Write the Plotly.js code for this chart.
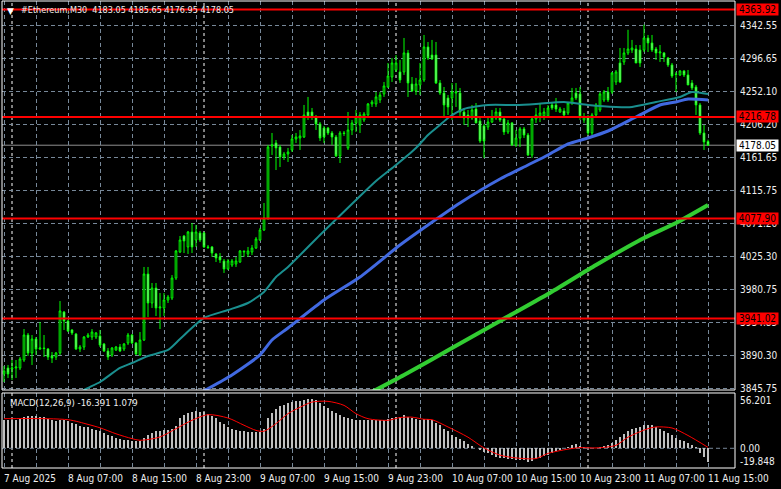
<!DOCTYPE html>
<html><head><meta charset="utf-8">
<script src="https://cdn.plot.ly/plotly-3.0.1.min.js"></script>
<style>html,body{margin:0;padding:0;background:#000;overflow:hidden}</style>
</head><body><div id="chart" style="width:781px;height:489px"></div>
<script>
// ---- data ----
const chartTitle = '#Ethereum,M30  4183.05 4185.65 4176.95 4178.05';
const macdTitle = 'MACD(12,26,9) -16.391 1.079';
// bar 0 = 7 Aug 2025 23:00, M30 bars
const opens = [
3865.0,3873.2,3871.8,3873.2,3873.2,3884.1,3918.3,3893.7,3912.8,3899.2,
3900.5,3899.2,3889.6,3888.2,3893.7,3949.8,3937.5,3925.2,3919.7,3899.2,
3901.9,3915.6,3915.6,3915.6,3916.9,3906.0,3896.4,3891.0,3897.8,3901.9,
3899.2,3907.4,3918.3,3907.4,3891.0,3911.5,4001.8,3962.1,3982.6,3955.3,
3955.3,3966.2,3968.9,3996.3,4031.9,4053.8,4038.8,4059.3,4048.3,4057.9,
4057.9,4038.8,4038.8,4029.2,4025.1,4019.6,4008.7,4014.1,4015.5,4018.2,
4031.9,4029.2,4031.9,4037.4,4048.3,4062.0,4078.4,4177.0,4181.1,4175.6,
4161.9,4166.0,4171.5,4186.6,4187.9,4189.3,4223.5,4223.5,4216.7,4207.1,
4201.6,4201.6,4194.8,4189.3,4163.3,4194.8,4174.3,4198.9,4208.5,4205.7,
4212.6,4219.4,4234.5,4234.5,4240.0,4248.2,4257.7,4271.4,4281.0,4278.3,
4278.3,4304.3,4261.8,4252.3,4260.5,4267.3,4312.5,4301.5,4301.5,4263.2,
4249.5,4242.7,4242.7,4249.5,4249.5,4223.5,4219.4,4215.3,4227.6,4211.2,
4204.4,4203.0,4209.8,4215.3,4223.5,4214.0,4196.2,4208.5,4178.4,4187.9,
4200.3,4192.0,4164.7,4214.0,4218.1,4218.1,4218.1,4233.1,4233.1,4223.5,
4224.9,4222.2,4235.8,4249.5,4248.2,4212.6,4216.7,4194.8,4219.4,4226.3,
4240.0,4250.9,4250.9,4264.6,4290.6,4292.0,4304.3,4308.4,4309.7,4308.4,
4308.4,4324.8,4318.0,4309.7,4304.3,4304.3,4297.4,4287.9,4275.5,4274.2,
4279.6,4274.2,4263.2,4257.7,4233.1,4194.8,4183.05];
const highs = [
3875.9,3877.3,3884.1,3884.1,3888.2,3926.5,3921.1,3918.3,3915.6,3936.1,
3918.3,3900.5,3895.1,3895.1,3964.8,3951.2,3938.8,3926.5,3921.1,3904.6,
3916.9,3921.1,3926.5,3922.4,3925.2,3907.4,3900.5,3901.9,3903.3,3906.0,
3907.4,3921.1,3919.7,3908.7,3922.4,4011.4,4011.4,3989.5,3989.5,3975.8,
3975.8,3973.1,4000.4,4034.6,4053.8,4055.2,4060.7,4071.6,4068.9,4060.7,
4059.3,4041.5,4040.1,4030.5,4030.5,4022.3,4022.3,4022.3,4025.1,4034.6,
4034.6,4038.8,4041.5,4052.4,4064.8,4099.0,4178.4,4194.8,4185.2,4178.4,
4168.8,4174.3,4192.0,4194.8,4198.9,4233.1,4244.1,4229.0,4219.4,4209.8,
4204.4,4203.0,4197.5,4192.0,4197.5,4197.5,4223.5,4212.6,4226.3,4223.5,
4223.5,4235.8,4240.0,4250.9,4250.9,4264.6,4290.6,4297.4,4301.5,4294.7,
4324.8,4308.4,4271.4,4270.1,4290.6,4328.9,4319.3,4322.1,4319.3,4267.3,
4257.7,4246.8,4263.2,4263.2,4256.4,4229.0,4226.3,4233.1,4235.8,4215.3,
4207.1,4215.3,4226.3,4229.0,4229.0,4216.7,4212.6,4209.8,4198.9,4203.0,
4203.0,4194.8,4216.7,4229.0,4235.8,4229.0,4233.1,4237.2,4242.7,4230.4,
4229.0,4237.2,4256.4,4256.4,4257.7,4222.2,4219.4,4222.2,4235.8,4250.9,
4253.6,4257.7,4278.3,4281.0,4311.1,4311.1,4336.0,4322.1,4315.2,4315.2,
4343.0,4328.9,4328.9,4312.5,4315.2,4305.6,4298.8,4290.6,4278.3,4281.0,
4281.0,4281.0,4267.3,4260.5,4235.8,4205.7,4185.65];
const lows = [
3854.0,3859.5,3856.7,3859.5,3870.4,3881.4,3889.6,3877.3,3891.0,3897.8,
3888.2,3884.1,3880.0,3884.1,3891.0,3925.2,3922.4,3918.3,3897.8,3895.1,
3897.8,3914.2,3911.5,3912.8,3901.9,3895.1,3884.1,3888.2,3896.4,3895.1,
3896.4,3904.6,3906.0,3891.0,3889.6,3910.1,3942.9,3955.3,3944.3,3926.5,
3944.3,3962.1,3966.2,3993.6,4030.5,4030.5,4029.2,4030.5,4038.8,4045.6,
4037.4,4036.0,4025.1,4018.2,4016.9,4003.2,4007.3,4011.4,4011.4,4016.9,
4025.1,4025.1,4027.8,4036.0,4047.0,4060.7,4075.7,4164.7,4144.1,4148.2,
4157.8,4155.1,4168.8,4181.1,4171.5,4187.9,4212.6,4212.6,4198.9,4183.8,
4181.1,4192.0,4178.4,4161.9,4153.7,4190.7,4171.5,4192.0,4196.2,4194.8,
4209.8,4215.3,4230.4,4230.4,4235.8,4244.1,4256.4,4264.6,4278.3,4263.2,
4274.2,4244.1,4250.9,4246.8,4246.8,4264.6,4294.7,4294.7,4261.8,4246.8,
4216.7,4219.4,4212.6,4230.4,4216.7,4205.7,4203.0,4212.6,4208.5,4181.1,
4160.6,4198.9,4208.5,4212.6,4209.8,4192.0,4193.4,4177.0,4175.6,4175.6,
4187.9,4163.3,4160.6,4208.5,4209.8,4212.6,4215.3,4226.3,4223.5,4222.2,
4216.7,4219.4,4233.1,4240.0,4212.6,4208.5,4192.0,4192.0,4216.7,4223.5,
4237.2,4237.2,4248.2,4260.5,4263.2,4287.9,4301.5,4304.3,4290.6,4285.1,
4305.6,4305.6,4305.6,4294.7,4292.0,4292.0,4285.1,4270.1,4250.9,4272.8,
4271.4,4260.5,4253.6,4219.4,4192.0,4171.5,4176.95];
const closes = [
3869.1,3865.0,3873.2,3874.5,3885.5,3918.3,3893.7,3912.8,3899.2,3900.5,
3899.8,3888.2,3886.8,3893.7,3951.2,3937.5,3923.8,3921.1,3899.2,3901.9,
3915.6,3918.3,3922.4,3921.1,3904.6,3896.4,3888.2,3900.5,3901.9,3896.4,
3906.0,3918.3,3907.4,3892.3,3911.5,4001.8,3962.1,3982.6,3955.3,3956.6,
3966.2,3970.3,3996.3,4033.3,4048.3,4047.0,4059.3,4038.8,4059.3,4048.3,
4038.8,4038.1,4030.5,4023.7,4021.0,4008.7,4019.6,4019.6,4019.6,4033.3,
4032.6,4033.3,4037.4,4049.7,4062.0,4078.4,4175.6,4178.4,4174.3,4161.9,
4166.0,4168.8,4186.6,4189.3,4190.7,4219.4,4216.7,4216.7,4207.1,4187.9,
4189.3,4194.8,4189.3,4163.3,4194.8,4194.1,4198.9,4208.5,4216.7,4219.4,
4220.8,4234.5,4237.2,4244.1,4246.8,4259.1,4272.8,4290.6,4290.6,4267.3,
4304.3,4263.2,4252.3,4261.8,4267.3,4312.5,4297.4,4296.1,4263.2,4249.5,
4233.1,4230.4,4250.9,4250.9,4223.5,4215.3,4215.3,4226.3,4208.5,4183.8,
4183.8,4209.8,4215.3,4223.5,4212.6,4196.2,4208.5,4178.4,4187.9,4200.3,
4192.0,4164.7,4214.0,4219.4,4222.2,4223.5,4229.0,4229.0,4227.6,4227.6,
4219.4,4235.8,4242.7,4242.7,4216.7,4216.7,4194.8,4219.4,4233.1,4248.2,
4250.9,4240.0,4276.9,4278.3,4264.6,4304.3,4309.7,4311.1,4290.6,4290.6,
4324.8,4318.0,4308.4,4304.3,4305.6,4298.8,4287.9,4272.8,4274.8,4279.6,
4274.2,4260.5,4256.4,4233.1,4194.8,4182.5,4178.05];
const macdHist = [
33.0,33.5,33.0,33.5,34.0,36.5,37.4,37.4,37.4,37.0,
36.5,34.5,33.0,32.0,33.5,33.0,31.5,30.0,28.0,26.5,
25.5,24.5,23.0,21.5,20.0,18.0,16.0,14.0,12.5,11.0,
10.0,9.5,9.0,8.5,8.0,12.0,15.5,18.5,20.0,20.5,
21.0,22.0,23.0,26.0,35.0,39.0,41.0,43.0,43.5,43.0,
42.0,40.0,37.5,35.0,31.0,28.0,25.5,23.0,21.5,20.5,
20.0,19.5,19.0,19.0,19.5,23.0,35.0,41.0,46.0,49.0,
51.0,52.5,54.0,55.0,56.0,57.0,58.0,58.2,56.5,53.0,
50.0,47.0,44.0,41.0,38.5,36.7,35.5,34.7,33.5,33.0,
33.0,33.0,33.0,33.0,33.0,33.5,34.5,35.5,36.5,37.0,
38.5,37.0,35.0,34.0,33.5,34.0,34.0,33.0,30.0,27.0,
23.0,20.0,16.0,13.0,11.0,8.5,5.5,3.0,0.8,-1.5,
-4.0,-6.0,-8.0,-10.0,-11.0,-11.5,-12.0,-13.0,-13.5,-14.0,
-14.0,-15.5,-14.5,-13.0,-11.5,-9.5,-7.5,-5.5,-3.5,-1.5,
0.5,2.0,3.5,4.5,2.5,1.5,0.5,0.5,0.5,1.5,
2.5,4.0,6.5,9.5,13.0,17.0,20.0,22.5,24.0,25.5,
27.0,27.5,27.5,25.5,23.0,20.5,18.0,15.0,12.5,10.0,
8.0,6.0,4.0,1.0,-5.0,-10.0,-16.391];
const signalBars = [0,16,21,24,28,32,34,39,43,47,51,56,60,63,65,68,71,75,77,81,85,88,91,96,99,102,105,107,111,116,120,124,128,133,136,141,144,148,153,156,161,163,167,171,176];
const signalVals = [34.7,33.5,28,24,17,11.3,9.4,13.3,23,32.8,39.4,35.5,27,21,20,28.9,40.6,50.3,54.2,55,50.3,40.6,34.7,32.8,36,36.5,34,33.5,25,13,0.4,-8,-11.3,-12,-6,-1,0.8,0.4,3.5,13,23,25,23.8,15,1.079];
const maTealBars = [18,20,24,29,32,36,41,44,50,56,61,65,68,71,79,88,93,98,103,106,109,111,115,121,128,133,140,146,153,157,163,169,172,176];
const maTealVals = [3834.8,3843.0,3854.0,3873.2,3880.0,3889.6,3897.8,3912.8,3941.6,3952.5,3962.1,3977.2,3997.7,4011.4,4055.2,4103.1,4129.1,4151.0,4174.3,4192.0,4205.7,4215.3,4227.6,4233.1,4233.1,4234.5,4237.2,4233.1,4230.4,4230.4,4237.2,4244.1,4250.9,4248.2];
const maBlueBars = [49,57,64,67,71,80,89,99,106,114,124,131,136,141,146,151,158,164,168,171,176];
const maBlueVals = [3838.9,3863.6,3891.0,3911.5,3927.9,3966.2,3997.7,4041.5,4068.9,4099.0,4131.8,4151.0,4164.7,4179.7,4187.9,4197.5,4216.7,4233.1,4237.2,4241.3,4240.0];
const maGreenBars = [91,100,112,124,136,148,160,168,176];
const maGreenVals = [3837.6,3863.6,3900.5,3937.5,3974.4,4014.1,4051.1,4071.6,4096.2];
const priceTicks = [4342.55,4296.65,4252.10,4206.20,4161.65,4115.75,4071.20,4025.30,3980.75,3934.85,3890.30,3845.75];
const levelLines = [4363.92,4216.78,4077.90,3941.02];
const lastPrice = 4178.05;
const macdTickVals = [56.201,0,-16.0];
const macdTickText = ['56.201','0.00','-19.848'];
const timeLabelBars = [0,16,32,48,64,80,96,112,128,144,160,176];
const timeLabels = ['7 Aug 2025','8 Aug 07:00','8 Aug 15:00','8 Aug 23:00','9 Aug 07:00','9 Aug 15:00','9 Aug 23:00','10 Aug 07:00','10 Aug 15:00','10 Aug 23:00','11 Aug 07:00','11 Aug 15:00'];
const gridBars = [0,8,16,24,32,40,48,56,64,72,80,88,96,104,112,120,128,136,144,152,160,168,176];
const daySeparatorBars = [2,50,98,146];

// ---- chart ----
const bars = opens.map((_, i) => i);
const FONT = 'DejaVu Sans Condensed, Liberation Sans, Arial, sans-serif';
const FS = 10;
const TXT = '#eeeeee';
const GRID = '#778899';
const mainBottom = 0.16702, macdTop = 0.1606;

const traces = [
  {type:'candlestick', x:bars, open:opens, high:highs, low:lows, close:closes,
   xaxis:'x', yaxis:'y', whiskerwidth:0, hoverinfo:'skip',
   increasing:{line:{color:'#00ff00',width:1}, fillcolor:'#000000'},
   decreasing:{line:{color:'#00ff00',width:1}, fillcolor:'#ffffff'}},
  {type:'scatter', mode:'lines', x:maGreenBars, y:maGreenVals, xaxis:'x', yaxis:'y',
   line:{color:'#32cd32', width:4, shape:'spline', smoothing:0.6}, hoverinfo:'skip'},
  {type:'scatter', mode:'lines', x:maBlueBars, y:maBlueVals, xaxis:'x', yaxis:'y',
   line:{color:'#4169e1', width:3, shape:'spline', smoothing:0.6}, hoverinfo:'skip'},
  {type:'scatter', mode:'lines', x:maTealBars, y:maTealVals, xaxis:'x', yaxis:'y',
   line:{color:'#1a8f8f', width:2, shape:'spline', smoothing:0.6}, hoverinfo:'skip'},
  {type:'bar', x:bars, y:macdHist, xaxis:'x2', yaxis:'y2', width:0.72,
   marker:{color:'#c0c0c0', line:{width:0}}, hoverinfo:'skip'},
  {type:'scatter', mode:'lines', x:signalBars, y:signalVals, xaxis:'x2', yaxis:'y2',
   line:{color:'#ff0000', width:1, shape:'spline', smoothing:0.8}, hoverinfo:'skip'}
];

const shapes = [];
daySeparatorBars.forEach(b => shapes.push({type:'line', xref:'x', yref:'paper', x0:b, x1:b, y0:0, y1:1,
  line:{color:'#ffffff', width:1, dash:'3px,3px'}, layer:'below'}));
shapes.push({type:'line', xref:'paper', yref:'y2', x0:0, x1:1, y0:0, y1:0, line:{color:GRID, width:1, dash:'4px,3px'}, layer:'below'});
shapes.push({type:'line', xref:'paper', yref:'y', x0:0, x1:1, y0:lastPrice, y1:lastPrice, line:{color:'#909090', width:1}, layer:'below'});
levelLines.forEach(v => shapes.push({type:'line', xref:'paper', yref:'y', x0:0, x1:1, y0:v, y1:v, line:{color:'#ff0000', width:2}}));
shapes.push({type:'rect', xref:'paper', yref:'paper', x0:0, x1:1, y0:mainBottom, y1:1, line:{color:'#ffffff', width:1}});
shapes.push({type:'rect', xref:'paper', yref:'paper', x0:0, x1:1, y0:0, y1:macdTop, line:{color:'#ffffff', width:1}});

const annotations = [];
annotations.push({xref:'paper', yref:'paper', x:0, y:1, xanchor:'left', yanchor:'top', xshift:3, yshift:-3,
  text:'▼', showarrow:false, font:{family:'DejaVu Sans', size:9, color:'#ffffff'}});
annotations.push({xref:'paper', yref:'paper', x:0, y:1, xanchor:'left', yanchor:'top', xshift:17, yshift:-2,
  text:chartTitle.replace('  ', '&nbsp; '), showarrow:false, font:{family:FONT, size:9, color:TXT}});
annotations.push({xref:'paper', yref:'paper', x:0, y:macdTop, xanchor:'left', yanchor:'top', xshift:6, yshift:-2,
  text:macdTitle, showarrow:false, font:{family:FONT, size:9.5, color:TXT}});
levelLines.forEach(v => annotations.push({xref:'paper', yref:'y', x:1, y:v, xanchor:'left', yanchor:'middle', xshift:1,
  text:v.toFixed(2), showarrow:false, bgcolor:'#ff0000', width:41, height:11, borderpad:0,
  font:{family:FONT, size:FS, color:'#000000'}}));
annotations.push({xref:'paper', yref:'y', x:1, y:lastPrice, xanchor:'left', yanchor:'middle', xshift:1,
  text:lastPrice.toFixed(2), showarrow:false, bgcolor:'#ffffff', width:41, height:11, borderpad:0,
  font:{family:FONT, size:FS, color:'#000000'}});
timeLabelBars.forEach((b, k) => annotations.push({xref:'x2', yref:'paper', x:b, y:0, xanchor:'left', yanchor:'top',
  xshift:-2, yshift:-3, text:timeLabels[k], showarrow:false, font:{family:FONT, size:FS, color:TXT}}));

const gridAxis = {tickmode:'array', tickvals:gridBars, showticklabels:false, showgrid:true, gridcolor:GRID,
  griddash:'4px,3px', gridwidth:1, zeroline:false, showline:false, ticks:'', fixedrange:true};

const layout = {
  width:781, height:489,
  margin:{l:2, r:46, t:1, b:21, pad:0},
  paper_bgcolor:'#000000', plot_bgcolor:'#000000',
  showlegend:false, boxgap:0.4, bargap:0,
  font:{family:FONT, size:FS, color:TXT},
  xaxis: Object.assign({}, gridAxis, {domain:[0,1], anchor:'y', range:[-0.5,182.75], rangeslider:{visible:false}}),
  xaxis2: Object.assign({}, gridAxis, {domain:[0,1], anchor:'y2', range:[-0.5,182.75], matches:'x'}),
  yaxis: {domain:[mainBottom,1], anchor:'x', range:[3843.05,4375.4], side:'right',
    tickmode:'array', tickvals:priceTicks, ticktext:priceTicks.map(v => v.toFixed(2)),
    showgrid:true, gridcolor:GRID, griddash:'4px,3px', gridwidth:1, zeroline:false, ticks:'',
    ticklabelstandoff:4, tickfont:{family:FONT, size:FS, color:TXT}, fixedrange:true},
  yaxis2: {domain:[0,macdTop], anchor:'x2', range:[-23.1,64.8], side:'right',
    tickmode:'array', tickvals:macdTickVals, ticktext:macdTickText,
    showgrid:false, zeroline:false, ticks:'', ticklabelstandoff:4,
    tickfont:{family:FONT, size:FS, color:TXT}, fixedrange:true},
  shapes: shapes,
  annotations: annotations
};

Plotly.newPlot('chart', traces, layout, {staticPlot:true, displayModeBar:false});
</script>
</body></html>
